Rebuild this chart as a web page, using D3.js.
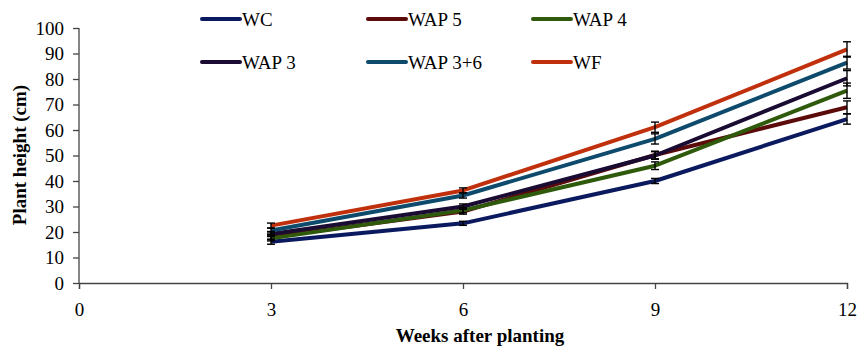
<!DOCTYPE html>
<html>
<head>
<meta charset="utf-8">
<script src="https://cdn.jsdelivr.net/npm/d3@7"></script>
<style>
  body { margin: 0; background: #fff; }
</style>
</head>
<body>
<script>
/* Data */
const weeks = [3, 6, 9, 12];
const seriesNames = ["WC", "WAP 5", "WAP 4", "WAP 3", "WAP 3+6", "WF"];
const seriesColors = ["#0b1a5e", "#5c0b0b", "#2f5a0c", "#1a0b33", "#0e4a6b", "#c0300c"];
const wc = [16.2, 23.4, 40.0, 64.3];
const wap5 = [18.0, 28.0, 50.2, 68.9];
const wap4 = [17.5, 28.5, 46.0, 75.4];
const wap3 = [19.2, 30.0, 50.0, 80.3];
const wap36 = [20.6, 34.3, 56.5, 86.4];
const wf = [22.5, 36.3, 61.1, 91.6];
const wcErr = [1, 0.8, 1, 2];
const wap5Err = [1, 1, 1.5, 2.5];
const wap4Err = [1, 1, 1.5, 3];
const wap3Err = [1, 1, 1.5, 3];
const wap36Err = [1, 1, 2, 2.5];
const wfErr = [1, 1, 2, 3];
const xTicks = [0, 3, 6, 9, 12];
const yTicks = [0, 10, 20, 30, 40, 50, 60, 70, 80, 90, 100];

const values = [wc, wap5, wap4, wap3, wap36, wf];
const errors = [wcErr, wap5Err, wap4Err, wap3Err, wap36Err, wfErr];

const FONT = "'Liberation Serif', 'Times New Roman', Times, serif";

const series = seriesNames.map((name, i) => ({
  name: name,
  color: seriesColors[i],
  points: weeks.map((w, j) => ({ week: w, value: values[i][j], err: errors[i][j] }))
}));

/* Layout */
const W = 858, H = 347;
const svg = d3.select("body").append("svg")
  .attr("width", W)
  .attr("height", H)
  .style("font-family", FONT);

const xScale = d3.scaleLinear().domain([0, 12]).range([79, 847]);
const yScale = d3.scaleLinear().domain([0, 100]).range([283, 28]);

/* Axes */
const xAxis = d3.axisBottom(xScale).tickValues(xTicks).tickSize(6).tickPadding(14).tickFormat(d3.format("d"));
const yAxis = d3.axisLeft(yScale).tickValues(yTicks).tickSize(6).tickPadding(9).tickFormat(d3.format("d"));

const gx = svg.append("g")
  .attr("transform", "translate(0,283)")
  .call(xAxis)
  .attr("font-family", null)
  .attr("font-size", null);
gx.select(".domain").attr("stroke", "#444").attr("stroke-width", 1.3);
gx.selectAll(".tick line").attr("stroke", "#444").attr("stroke-width", 1.3);
gx.selectAll(".tick text").style("font-family", FONT).style("font-size", "19px");

const gy = svg.append("g")
  .attr("transform", "translate(79,0)")
  .call(yAxis)
  .attr("font-family", null)
  .attr("font-size", null);
gy.select(".domain").attr("stroke", "#444").attr("stroke-width", 1.3)
  .attr("d", "M0,28V283");
gy.selectAll(".tick line").attr("stroke", "#444").attr("stroke-width", 1.3);
gy.selectAll(".tick text").style("font-family", FONT).style("font-size", "19px");

/* Axis titles */
svg.append("text")
  .attr("x", 480)
  .attr("y", 342)
  .attr("text-anchor", "middle")
  .style("font-family", FONT)
  .style("font-size", "19px")
  .style("font-weight", "bold")
  .text("Weeks after planting");

svg.append("text")
  .attr("transform", "translate(26,155) rotate(-90)")
  .attr("text-anchor", "middle")
  .style("font-family", FONT)
  .style("font-size", "19px")
  .style("font-weight", "bold")
  .text("Plant height (cm)");

/* Lines */
const line = d3.line()
  .x(d => xScale(d.week))
  .y(d => yScale(d.value));

svg.selectAll(".series")
  .data(series)
  .enter()
  .append("path")
  .attr("class", "series")
  .attr("d", d => line(d.points))
  .attr("fill", "none")
  .attr("stroke", d => d.color)
  .attr("stroke-width", 4)
  .attr("stroke-linejoin", "round");

/* Error bars */
const allPoints = series.flatMap(s => s.points);
const eb = svg.selectAll(".err")
  .data(allPoints)
  .enter()
  .append("g")
  .attr("class", "err")
  .attr("stroke", "#000")
  .attr("stroke-width", 1.4);

eb.append("line")
  .attr("x1", d => xScale(d.week))
  .attr("x2", d => xScale(d.week))
  .attr("y1", d => yScale(d.value - d.err))
  .attr("y2", d => yScale(d.value + d.err));
eb.append("line")
  .attr("x1", d => xScale(d.week) - 4)
  .attr("x2", d => xScale(d.week) + 4)
  .attr("y1", d => yScale(d.value + d.err))
  .attr("y2", d => yScale(d.value + d.err));
eb.append("line")
  .attr("x1", d => xScale(d.week) - 4)
  .attr("x2", d => xScale(d.week) + 4)
  .attr("y1", d => yScale(d.value - d.err))
  .attr("y2", d => yScale(d.value - d.err));

/* Legend */
const legendX = [202, 368, 533];
const legendY = [19, 62];
const legend = svg.selectAll(".legend")
  .data(series)
  .enter()
  .append("g")
  .attr("class", "legend")
  .attr("transform", (d, i) => "translate(" + legendX[i % 3] + "," + legendY[Math.floor(i / 3)] + ")");

legend.append("line")
  .attr("x1", 0)
  .attr("x2", 38)
  .attr("stroke", d => d.color)
  .attr("stroke-width", 4)
  .attr("stroke-linecap", "round");

legend.append("text")
  .attr("x", 40)
  .attr("y", 7)
  .style("font-family", FONT)
  .style("font-size", "19px")
  .text(d => d.name);
</script>
</body>
</html>
